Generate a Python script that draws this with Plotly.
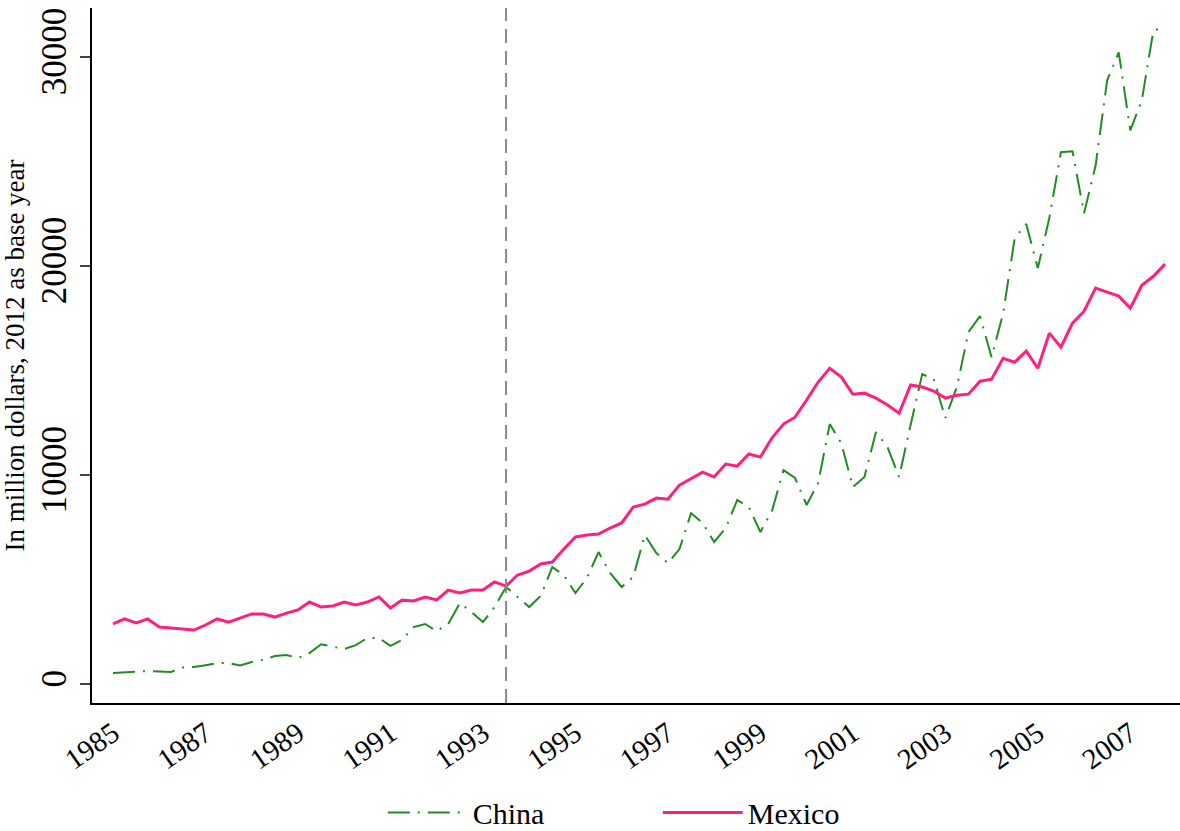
import plotly.graph_objects as go

quarters = list(range(92))
mexico = [2870,3110,2920,3110,2720,2680,2630,2580,2820,3110,2960,3150,3350,3350,3200,3390,3540,3920,3680,3730,
          3920,3780,3920,4160,3630,4010,3970,4160,4020,4490,4350,4490,4490,4880,4680,
          5210,5400,5740,5830,6450,7030,7120,7170,7460,7700,8460,8600,8890,8840,9510,9800,10130,9900,10520,10420,
          11000,10850,11760,12430,12760,13580,14440,15100,14680,13860,13910,13670,13340,
          12950,14300,14200,14010,13670,13810,13860,14480,14580,15580,15390,15920,15100,16780,16110,17260,17830,
          18930,18740,18550,17970,19070,19500,20080]
china = [530,570,610,620,600,570,790,810,900,1000,1000,880,1050,1150,1340,1390,1240,1480,1900,1800,
         1670,1860,2200,2200,1820,2100,2720,2870,2530,2870,3870,3440,2960,3680,4640,
         4160,3680,4210,5590,5210,4350,5070,6310,5310,4640,5120,7120,6260,5780,6450,8170,7700,6790,7460,8800,
         8460,7270,8270,10230,9850,8560,9610,12430,11520,9420,9900,12050,11330,9900,12400,14820,14580,12720,
         14200,16830,17590,15630,17730,21320,22000,19890,22300,25430,25480,22510,24800,28870,30210,26480,27920,
         31260,31400]
tick_pos = [0,8,16,24,32,40,48,56,64,72,80,88]
tick_text = ["1985","1987","1989","1991","1993","1995","1997","1999","2001","2003","2005","2007"]
event_q = 34

font = "Liberation Serif"
fig = go.Figure()
fig.add_trace(go.Scatter(x=quarters, y=china, mode="lines", name="China",
                         line=dict(color="#228B22", width=2, dash="22px,8px,2px,8px")))
fig.add_trace(go.Scatter(x=quarters, y=mexico, mode="lines", name="Mexico",
                         line=dict(color="#FF1F7F", width=3)))
fig.add_vline(x=event_q, line=dict(color="#888888", width=2, dash="14px,8px"))
fig.update_layout(
    width=1180, height=831, template="none",
    paper_bgcolor="white", plot_bgcolor="white",
    margin=dict(l=92, r=0, t=8, b=128, autoexpand=False),
    font=dict(family=font, size=30, color="black"),
    legend=dict(orientation="h", x=0.52, xanchor="center", y=-0.12, yanchor="top",
                font=dict(size=30), entrywidth=180, itemwidth=80),
    xaxis=dict(range=[-1.82, 92.3], tickvals=tick_pos, ticktext=tick_text, tickangle=-35,
               showgrid=False, zeroline=False, showline=True, linecolor="black", linewidth=2,
               ticks="", tickfont=dict(size=29), automargin=False),
    yaxis=dict(range=[-910, 32330], tickvals=[0,10000,20000,30000], tickformat="d", tickangle=-90,
               showgrid=False, zeroline=False, showline=True, linecolor="black", linewidth=2,
               ticks="outside", ticklen=10, tickwidth=1.5, tickfont=dict(size=35), automargin=False,
               title=dict(text="In million dollars, 2012 as base year", font=dict(size=27), standoff=4)),
)
fig.write_html("out.html", config={"displayModeBar": False},
               post_script="document.body.style.margin='0px';document.body.style.overflow='hidden';")
